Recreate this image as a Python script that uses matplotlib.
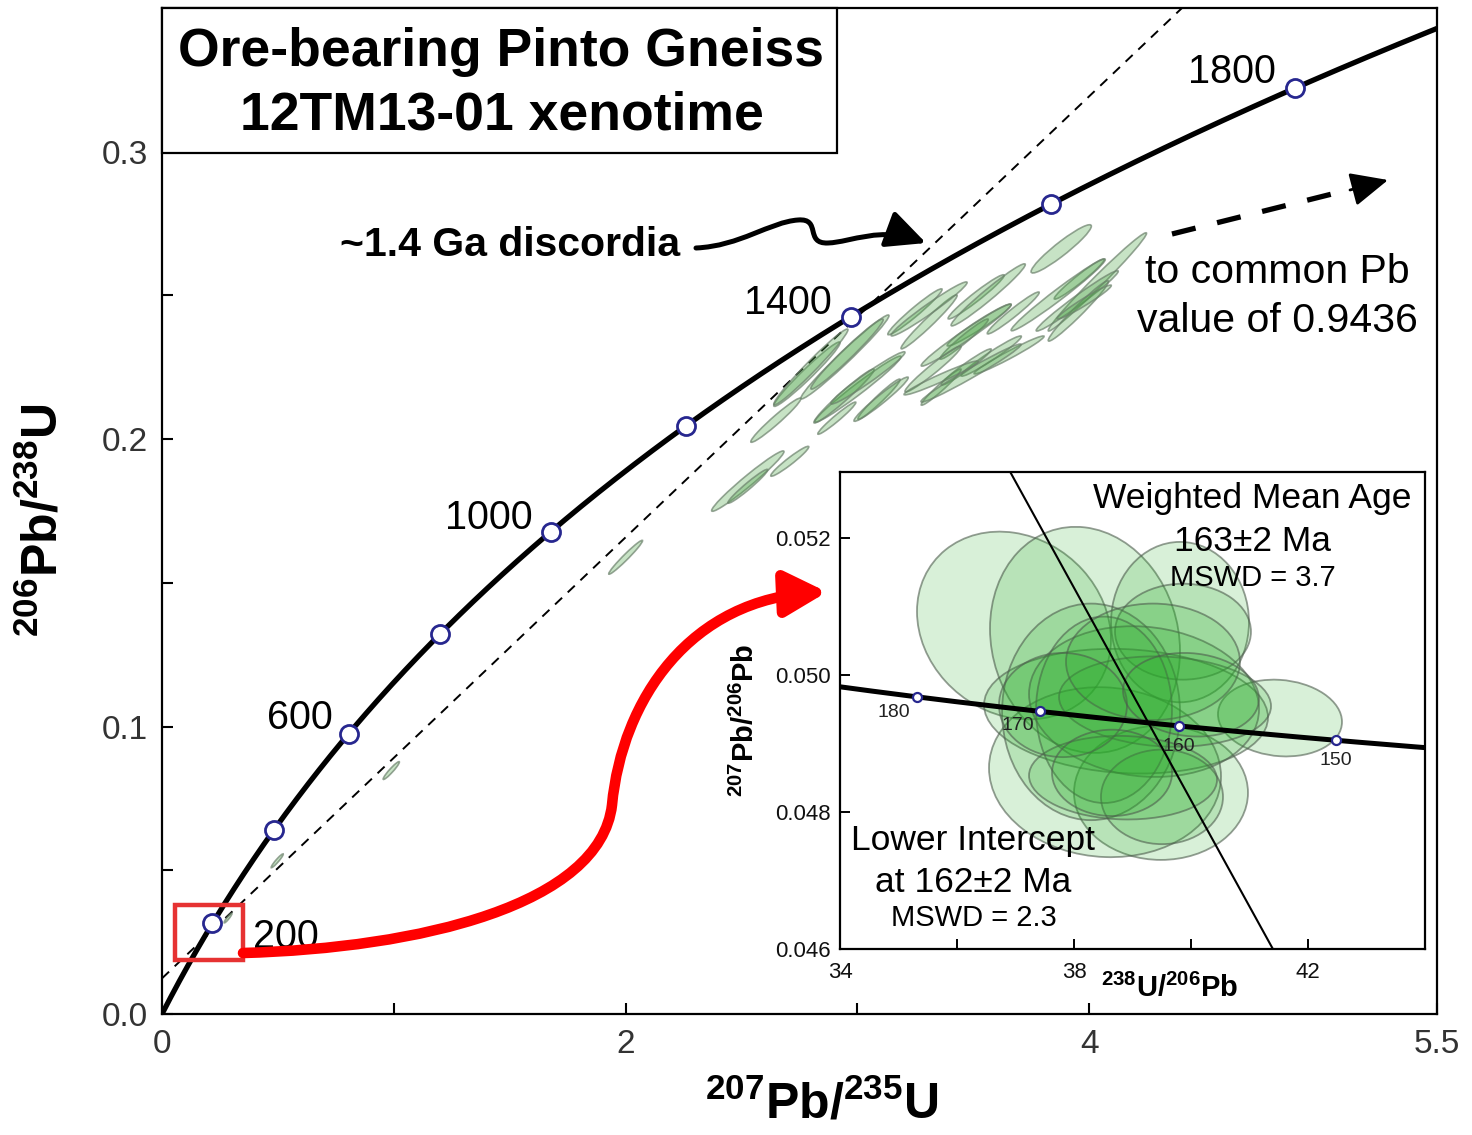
import numpy as np
import matplotlib
matplotlib.use("Agg")
import matplotlib.pyplot as plt
import matplotlib.transforms as mtransforms
from matplotlib.patches import Ellipse, Rectangle, FancyArrowPatch
from matplotlib.path import Path
from matplotlib.lines import Line2D

plt.rcParams['font.family'] = ['Liberation Sans', 'DejaVu Sans']
plt.rcParams['mathtext.fontset'] = 'custom'
plt.rcParams['mathtext.rm'] = 'Liberation Sans'
plt.rcParams['mathtext.bf'] = 'Liberation Sans:bold'
plt.rcParams['mathtext.it'] = 'Liberation Sans:italic'
plt.rcParams['mathtext.sf'] = 'Liberation Sans'

# ---------------- data ----------------
LAMBDA_238 = 1.55125e-4   # 1/Ma
LAMBDA_235 = 9.8485e-4    # 1/Ma
U238_U235 = 137.88

CONC_AGES = [200, 400, 600, 800, 1000, 1200, 1400, 1600, 1800]
CONC_LABEL_AGES = [200, 600, 1000, 1400, 1800]
INSET_AGES = [180, 170, 160, 150]

# ~1.4 Ga discordia (main plot) and lower-intercept line (inset)
DISC_X = [0.0, 4.40]
DISC_Y = [0.0124, 0.35]
INSET_DISC_X = [36.91, 41.40]
INSET_DISC_Y = [0.05296, 0.0460]

# main plot error ellipses: 207Pb/235U, 206Pb/238U, errors, correlation
MAIN_X = [3.879, 4.035, 3.957, 3.948, 3.953, 3.978, 3.866, 3.512, 3.564, 3.525,
          3.672, 3.460, 3.577, 3.654, 3.469, 2.782, 2.946, 2.955, 3.002, 2.911,
          3.093, 3.248, 3.309, 3.326, 3.361, 2.799, 2.648, 2.942, 3.102, 3.045,
          3.309, 3.469, 3.490, 3.361, 2.527, 2.527, 2.708, 2.000, 0.989, 0.497,
          0.285]
MAIN_Y = [0.2662, 0.2547, 0.2557, 0.2481, 0.2446, 0.2477, 0.2502, 0.2495, 0.2502, 0.2397,
          0.2439, 0.2348, 0.2289, 0.2293, 0.2251, 0.2226, 0.2286, 0.2296, 0.2174, 0.2073,
          0.2139, 0.2443, 0.2408, 0.2244, 0.2181, 0.2251, 0.2066, 0.2150, 0.2139, 0.2213,
          0.2453, 0.2362, 0.2230, 0.2213, 0.1854, 0.1836, 0.1923, 0.1589, 0.0847, 0.0533,
          0.0334]
MAIN_SX = [0.130, 0.212, 0.108, 0.177, 0.130, 0.117, 0.203, 0.121, 0.160, 0.138,
           0.112, 0.104, 0.130, 0.151, 0.108, 0.143, 0.190, 0.156, 0.186, 0.082,
           0.091, 0.117, 0.121, 0.121, 0.086, 0.160, 0.108, 0.130, 0.117, 0.160,
           0.164, 0.194, 0.216, 0.160, 0.156, 0.086, 0.082, 0.073, 0.035, 0.026,
           0.017]
MAIN_SY = [0.0084, 0.0171, 0.0070, 0.0105, 0.0105, 0.0059, 0.0125, 0.0077, 0.0108, 0.0073,
           0.0073, 0.0070, 0.0070, 0.0066, 0.0063, 0.0112, 0.0146, 0.0122, 0.0115, 0.0056,
           0.0070, 0.0080, 0.0094, 0.0080, 0.0063, 0.0132, 0.0077, 0.0094, 0.0077, 0.0091,
           0.0094, 0.0108, 0.0101, 0.0059, 0.0105, 0.0059, 0.0052, 0.0059, 0.0031, 0.0024,
           0.0017]
MAIN_RHO = [0.94, 0.988, 0.97, 0.98, 0.975, 0.97, 0.982, 0.97, 0.975, 0.97,
            0.97, 0.97, 0.97, 0.975, 0.97, 0.975, 0.982, 0.978, 0.98, 0.97,
            0.97, 0.97, 0.975, 0.97, 0.97, 0.98, 0.97, 0.975, 0.97, 0.975,
            0.975, 0.98, 0.982, 0.97, 0.975, 0.97, 0.96, 0.975, 0.95, 0.95,
            0.93]

# inset (Tera-Wasserburg) ellipses: 238U/206Pb, 207Pb/206Pb
IN_X = [36.974, 38.188, 39.812, 39.863, 41.521, 39.487, 38.530, 38.889, 38.291,
        39.197, 39.556, 38.513, 39.504, 38.838, 39.350, 37.812, 40.000, 38.650]
IN_Y = [0.05072, 0.05051, 0.05077, 0.05063, 0.04937, 0.04828, 0.04858, 0.04947, 0.04946,
        0.04961, 0.04961, 0.04949, 0.04822, 0.04850, 0.05019, 0.04956, 0.04971, 0.04857]
IN_SX = [1.658, 1.624, 1.179, 1.162, 1.060, 1.487, 1.983, 2.427, 1.521,
         1.966, 1.812, 1.162, 1.043, 1.607, 1.487, 1.094, 1.162, 1.026]
IN_SY = [0.00137, 0.00165, 0.00117, 0.00070, 0.00056, 0.00098, 0.00124, 0.00091, 0.00158,
         0.00110, 0.00066, 0.00136, 0.00069, 0.00061, 0.00085, 0.00076, 0.00061, 0.00063]
IN_RHO = [-0.15, -0.10, 0.0, 0.0, -0.10, 0.0, -0.05, -0.10, 0.0,
          -0.10, -0.10, 0.0, 0.0, -0.05, 0.0, 0.0, -0.10, 0.0]

MAIN_XTICKS = [0, 1, 2, 3, 4, 5.5]
MAIN_XTICKLABELS = ['0', '', '2', '', '4', '5.5']
MAIN_YTICKS = [0.0, 0.05, 0.1, 0.15, 0.2, 0.25, 0.3]
MAIN_YTICKLABELS = ['0.0', '', '0.1', '', '0.2', '', '0.3']
IN_XTICKS = [34, 36, 38, 40, 42]
IN_XTICKLABELS = ['34', '', '38', '', '42']
IN_YTICKS = [0.046, 0.048, 0.050, 0.052]
IN_YTICKLABELS = ['0.046', '0.048', '0.050', '0.052']


def conc_wetherill(t):
    t = np.asarray(t, dtype=float)
    return np.expm1(LAMBDA_235 * t), np.expm1(LAMBDA_238 * t)


def conc_tw(t):
    t = np.asarray(t, dtype=float)
    r68 = np.expm1(LAMBDA_238 * t)
    r75 = np.expm1(LAMBDA_235 * t)
    return 1.0 / r68, r75 / r68 / U238_U235


def add_err_ellipse(ax, x, y, sx, sy, rho, **kw):
    cov = np.array([[sx * sx, rho * sx * sy], [rho * sx * sy, sy * sy]])
    vals, vecs = np.linalg.eigh(cov)
    order = vals.argsort()[::-1]
    vals, vecs = vals[order], vecs[:, order]
    ang = np.degrees(np.arctan2(vecs[1, 0], vecs[0, 0]))
    e = Ellipse((x, y), 2 * np.sqrt(vals[0]), 2 * np.sqrt(max(vals[1], 0)), angle=ang, **kw)
    ax.add_patch(e)


W, H = 1472, 1135
fig = plt.figure(figsize=(W / 100, H / 100), dpi=100)
PX = mtransforms.Affine2D().scale(1.0 / W, -1.0 / H).translate(0, 1) + fig.transFigure

# ---------------- main axes ----------------
ax = fig.add_axes([162 / W, 1 - 1014 / H, (1437 - 162) / W, (1014 - 8) / H])
ax.set_xlim(0, 5.5)
ax.set_ylim(0, 0.35)

for x, y, sx, sy, r in zip(MAIN_X, MAIN_Y, MAIN_SX, MAIN_SY, MAIN_RHO):
    add_err_ellipse(ax, x, y, sx, sy, r, fc=(0.28, 0.64, 0.26, 0.30),
                    ec=(0.42, 0.50, 0.42, 0.70), lw=1.2, zorder=3)

ax.plot(DISC_X, DISC_Y, color='black', lw=1.4, dashes=(5, 4), zorder=2)

tc = np.linspace(0, 2100, 800)
cx, cy = conc_wetherill(tc)
ax.plot(cx, cy, color='black', lw=3.8, zorder=4, solid_capstyle='butt')
mx, my = conc_wetherill(CONC_AGES)
ax.plot(mx, my, 'o', ms=13, mfc='white', mec='#27278f', mew=2.0, zorder=5)

label_offsets = {200: (53, -9.5), 600: (-35, 11), 1000: (-45, 10), 1400: (-45, 10), 1800: (-45, 12)}
for age in CONC_LABEL_AGES:
    lx, ly = conc_wetherill(age)
    ax.annotate(str(age), xy=(float(lx), float(ly)), xytext=label_offsets[age],
                textcoords='offset points', ha='center', va='center',
                fontsize=28.5, color='black', zorder=6)

ax.set_xticks(MAIN_XTICKS)
ax.set_xticklabels(MAIN_XTICKLABELS)
ax.set_yticks(MAIN_YTICKS)
ax.set_yticklabels(MAIN_YTICKLABELS)
ax.tick_params(direction='in', length=8, width=1.5, labelsize=24, labelcolor='#333333')
ax.tick_params(axis='x', pad=11)
ax.tick_params(axis='y', pad=10)
for s in ax.spines.values():
    s.set_linewidth(1.6)

# ---------------- inset axes ----------------
axi = fig.add_axes([840 / W, 1 - 949 / H, 585 / W, (949 - 472) / H])
axi.set_xlim(34, 44)
axi.set_ylim(0.046, 0.05296)
for x, y, sx, sy, r in zip(IN_X, IN_Y, IN_SX, IN_SY, IN_RHO):
    add_err_ellipse(axi, x, y, sx, sy, r, fc=(0.16, 0.68, 0.16, 0.18),
                    ec=(0.30, 0.36, 0.30, 0.60), lw=1.3, zorder=2)
axi.plot(INSET_DISC_X, INSET_DISC_Y, color='black', lw=1.5, zorder=3)
ti = np.linspace(140, 200, 300)
tx, ty = conc_tw(ti)
axi.plot(tx, ty, color='black', lw=3.6, zorder=4)
ix, iy = conc_tw(INSET_AGES)
axi.plot(ix, iy, 'o', ms=6.5, mfc='white', mec='#27278f', mew=1.6, zorder=5)
in_offsets = {180: (-16.5, -11), 170: (-16, -10), 160: (0, -15), 150: (0, -14.5)}
for age in INSET_AGES:
    lx, ly = conc_tw(age)
    axi.annotate(str(age), xy=(float(lx), float(ly)), xytext=in_offsets[age],
                 textcoords='offset points', ha='center', va='center',
                 fontsize=14, color='#222222', zorder=6)
axi.set_xticks(IN_XTICKS)
axi.set_xticklabels(IN_XTICKLABELS)
axi.set_yticks(IN_YTICKS)
axi.set_yticklabels(IN_YTICKLABELS)
axi.tick_params(direction='in', length=7, width=1.4, labelsize=16, labelcolor='#111111')
axi.tick_params(axis='x', pad=9)
axi.tick_params(axis='y', pad=7)
for s in axi.spines.values():
    s.set_linewidth(1.6)

axi.text(0.705, 0.945, 'Weighted Mean Age', transform=axi.transAxes, ha='center', va='center', fontsize=25.5)
axi.text(0.705, 0.855, '163±2 Ma', transform=axi.transAxes, ha='center', va='center', fontsize=25.5)
axi.text(0.705, 0.778, 'MSWD = 3.7', transform=axi.transAxes, ha='center', va='center', fontsize=21)
axi.text(0.228, 0.228, 'Lower Intercept', transform=axi.transAxes, ha='center', va='center', fontsize=25.5)
axi.text(0.228, 0.140, 'at 162±2 Ma', transform=axi.transAxes, ha='center', va='center', fontsize=25.5)
axi.text(0.228, 0.065, 'MSWD = 2.3', transform=axi.transAxes, ha='center', va='center', fontsize=21)

# ---------------- figure-level annotations ----------------
fig.text(745, 720, r'$^{\mathbf{207}}\mathbf{Pb/}^{\mathbf{206}}\mathbf{Pb}$', transform=PX,
         rotation=90, ha='center', va='center', fontsize=21)
fig.text(1170, 988, r'$^{\mathbf{238}}\mathbf{U/}^{\mathbf{206}}\mathbf{Pb}$', transform=PX,
         ha='center', va='center', fontsize=21)

fig.text(822, 1104, r'$^{\mathbf{207}}\mathbf{Pb/}^{\mathbf{235}}\mathbf{U}$', transform=PX,
         ha='center', va='center', fontsize=36)
fig.text(43, 520, r'$^{\mathbf{206}}\mathbf{Pb/}^{\mathbf{238}}\mathbf{U}$', transform=PX,
         rotation=90, ha='center', va='center', fontsize=36)

# title box
fig.add_artist(Rectangle((162, 8), 675, 145, transform=PX, fc='white', ec='black', lw=1.6, zorder=3))
fig.text(501, 52, 'Ore-bearing Pinto Gneiss', transform=PX, ha='center', va='center',
         fontsize=38.5, fontweight='bold', zorder=4)
fig.text(502, 116, '12TM13-01 xenotime', transform=PX, ha='center', va='center',
         fontsize=38.5, fontweight='bold', zorder=4)

fig.text(510, 245, '~1.4 Ga discordia', transform=PX, ha='center', va='center',
         fontsize=29.5, fontweight='bold', zorder=4)
fig.text(1277, 272, 'to common Pb', transform=PX, ha='center', va='center', fontsize=29.5, zorder=4)
fig.text(1277, 321, 'value of 0.9436', transform=PX, ha='center', va='center', fontsize=29.5, zorder=4)

# curly black arrow
curly = Path([(696, 248), (740, 246), (770, 222), (798, 220),
              (822, 218), (804, 244), (828, 243),
              (852, 242), (880, 226), (926, 243)],
             [Path.MOVETO] + [Path.CURVE4] * 9)
fig.add_artist(FancyArrowPatch(path=curly, transform=PX, arrowstyle='-|>,head_length=2.4,head_width=1.15',
                               mutation_scale=10, lw=3.6, color='black', zorder=6))

# dashed arrow to common Pb
fig.add_artist(Line2D([1172, 1352], [234, 189], transform=PX, color='black', lw=3.8,
                      dashes=(4.6, 4.2), zorder=6))
fig.add_artist(FancyArrowPatch((1350, 190), (1388, 180), transform=PX,
                               arrowstyle='-|>,head_length=2.3,head_width=1.05', mutation_scale=10,
                               lw=2.0, color='black', shrinkA=0, shrinkB=0, zorder=6))

# red zoom box and arrow
fig.add_artist(Rectangle((175, 905), 68, 55, transform=PX, fc='none', ec='#e63232', lw=3.2, zorder=6))
red = Path([(243, 953), (420, 948), (600, 905), (612, 805),
            (622, 700), (690, 598), (827, 592)],
           [Path.MOVETO] + [Path.CURVE4] * 6)
fig.add_artist(FancyArrowPatch(path=red, transform=PX, arrowstyle='-|>,head_length=2.5,head_width=1.35',
                               mutation_scale=10, lw=7.6, color='#ff0000', zorder=7))

fig.savefig('out.png', dpi=100)
